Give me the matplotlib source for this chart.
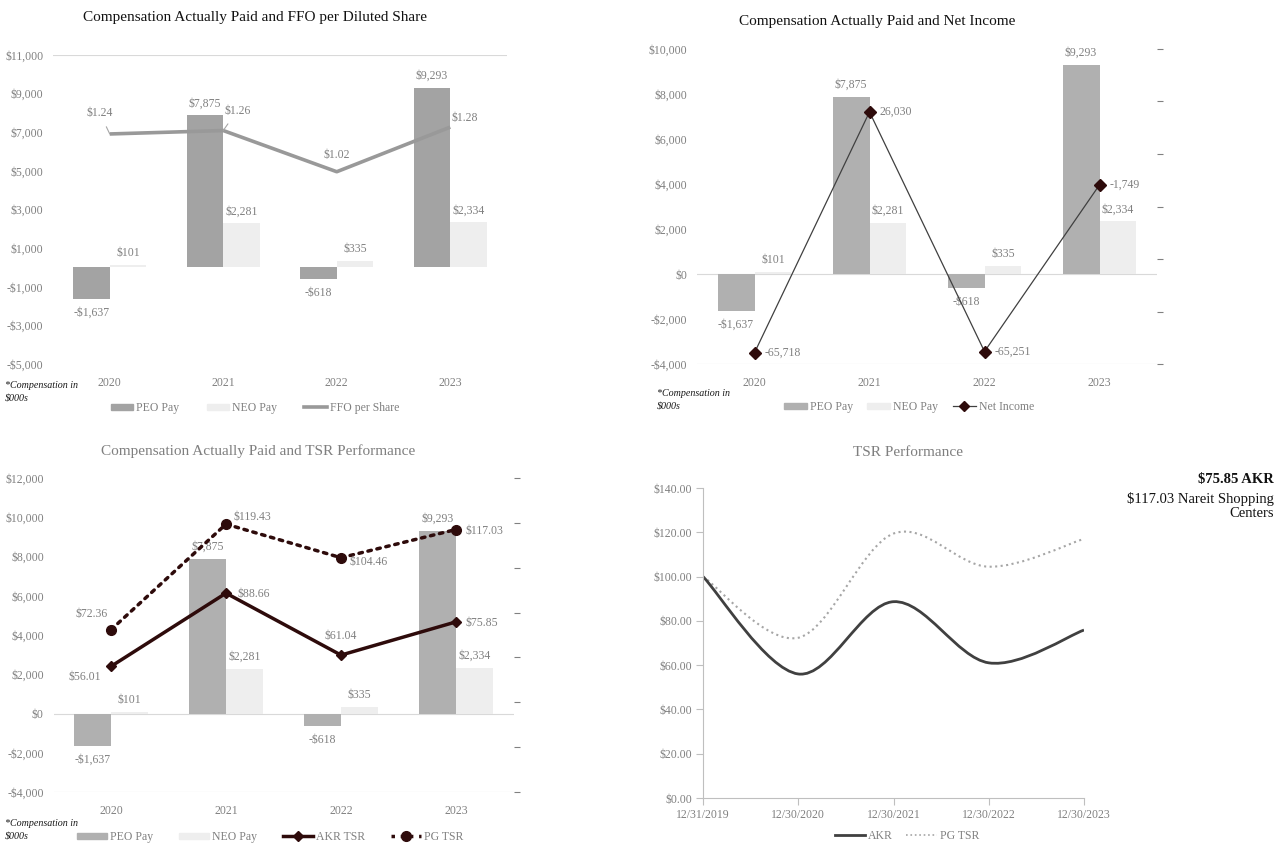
import matplotlib
matplotlib.use("Agg")
import matplotlib.pyplot as plt
from matplotlib.path import Path
from matplotlib.patches import PathPatch, Patch
from matplotlib.lines import Line2D
import numpy as np

plt.rcParams['font.family'] = ['Liberation Serif', 'DejaVu Serif']

# data
years = ['2020', '2021', '2022', '2023']
peo_pay = [-1637, 7875, -618, 9293]
neo_pay = [101, 2281, 335, 2334]
ffo_share = [1.24, 1.26, 1.02, 1.28]
net_income = [-65718, 26030, -65251, -1749]
akr_tsr = [56.01, 88.66, 61.04, 75.85]
pg_tsr = [72.36, 119.43, 104.46, 117.03]

tsr_dates = ['12/31/2019', '12/30/2020', '12/30/2021', '12/30/2022', '12/30/2023']
akr_curve = [100, 56.01, 88.66, 61.04, 75.85]
pg_curve = [100, 72.36, 119.43, 104.46, 117.03]

W, H = 1277, 848
GRAY = '#808080'
NEO_C = '#eeeeee'
DARK = '#2e0b0b'
FS = 8.5

fig = plt.figure(figsize=(W / 100, H / 100), dpi=100)


def box(l, t, r, b):
    return [l / W, 1 - b / H, (r - l) / W, (b - t) / H]


def ftext(x, y, s, **kw):
    fig.text(x / W, 1 - y / H, s, **kw)


def money(v, pos=None):
    return ('-$' if v < 0 else '$') + '{:,.0f}'.format(abs(v))


def bars(ax, peo_color):
    x = np.arange(len(years))
    w = 0.32
    ax.bar(x - w / 2, peo_pay, w, color=peo_color, zorder=2)
    ax.bar(x + w / 2, neo_pay, w, color=NEO_C, zorder=2)
    for xi, v in zip(x - w / 2, peo_pay):
        ax.annotate(money(v), (xi, v), xytext=(0, 6 if v > 0 else -8),
                    textcoords='offset pixels', ha='center',
                    va='bottom' if v > 0 else 'top', color=GRAY, fontsize=FS)
    for xi, v in zip(x + w / 2, neo_pay):
        ax.annotate(money(v), (xi, v), xytext=(0, 6), textcoords='offset pixels',
                    ha='center', va='bottom', color=GRAY, fontsize=FS)
    ax.set_xlim(-0.5, 3.5)
    ax.set_xticks(x)
    ax.set_xticklabels(years)
    ax.yaxis.set_major_formatter(plt.FuncFormatter(money))
    for s in ax.spines.values():
        s.set_visible(False)
    ax.tick_params(length=0, labelcolor=GRAY, labelsize=FS)
    ax.tick_params(axis='x', pad=9)
    ax.tick_params(axis='y', pad=7)


def legend(ax, handles, labels, cx, cy, hl=1.9, cs=2.2):
    ax.legend(handles, labels, loc='center', bbox_to_anchor=(cx / W, 1 - cy / H),
              bbox_transform=fig.transFigure, ncol=len(labels), frameon=False,
              fontsize=FS, labelcolor=GRAY, handlelength=hl, handleheight=0.45,
              handletextpad=0.25, columnspacing=cs)


def footnote(x, y):
    ftext(x, y, '*Compensation in\n$000s', fontsize=7.2, style='italic',
          color='#1a1a1a', va='center', linespacing=1.55)


def smooth_path(xs, ys):
    # cardinal-spline style bezier through each point
    pts = list(zip(xs, ys))
    n = len(pts)
    verts = [pts[0]]
    codes = [Path.MOVETO]
    for i in range(n - 1):
        p0 = pts[i - 1] if i > 0 else pts[i]
        p1, p2 = pts[i], pts[i + 1]
        p3 = pts[i + 2] if i + 2 < n else pts[i + 1]
        c1 = (p1[0] + (p2[0] - p0[0]) / 6, p1[1] + (p2[1] - p0[1]) / 6)
        c2 = (p2[0] - (p3[0] - p1[0]) / 6, p2[1] - (p3[1] - p1[1]) / 6)
        verts += [c1, c2, p2]
        codes += [Path.CURVE4] * 3
    return Path(verts, codes)


x = np.arange(len(years))

# --- FFO per diluted share ---
ax1 = fig.add_axes(box(53, 55, 507, 364))
bars(ax1, '#a3a3a3')
ax1.set_ylim(-5000, 11000)
ax1.set_yticks(range(-5000, 11001, 2000))
ax1.axhline(11000, color='#d9d9d9', lw=0.8, zorder=1)
ax1b = ax1.twinx()
ax1b.set_ylim(-0.1, 1.7)
ax1b.plot(x, ffo_share, color='#999999', lw=2.6, solid_capstyle='butt')
ax1b.axis('off')
ffo_offsets = [(-10, 21), (14, 20), (0, 17), (15, 9)]
for xi, v, off in zip(x, ffo_share, ffo_offsets):
    lead = dict(arrowstyle='-', color='#a6a6a6', lw=0.8, shrinkA=4, shrinkB=0) \
        if off[1] > 18 else None
    ax1b.annotate('${:.2f}'.format(v), (xi, v), xytext=off, textcoords='offset pixels',
                  ha='center', va='center', color=GRAY, fontsize=FS, arrowprops=lead)
ftext(255, 18, 'Compensation Actually Paid and FFO per Diluted Share',
      ha='center', va='center', fontsize=11, color='#111111')
footnote(5, 392)
legend(ax1, [Patch(color='#a3a3a3'), Patch(color=NEO_C),
             Line2D([], [], color='#999999', lw=2.6)],
       ['PEO Pay', 'NEO Pay', 'FFO per Share'], 255, 408, hl=1.9, cs=2.3)

# --- Net income ---
ax2 = fig.add_axes(box(697, 49, 1157, 364))
bars(ax2, '#b0b0b0')
ax2.set_ylim(-4000, 10000)
ax2.set_yticks(range(-4000, 10001, 2000))
ax2.axhline(0, color='#d9d9d9', lw=0.8, zorder=1)
ax2.axhline(-4000, color='#d9d9d9', lw=0.8, zorder=1)
ax2b = ax2.twinx()
ax2b.set_ylim(-70000, 50000)
ax2b.set_yticks(range(-70000, 50001, 20000))
ax2b.tick_params(axis='y', length=4, color=GRAY, labelright=False)
for s in ax2b.spines.values():
    s.set_visible(False)
ax2b.plot(x, net_income, color='#404040', lw=0.9, marker='D', ms=6,
          mfc=DARK, mec=DARK)
for xi, v in zip(x, net_income):
    ax2b.annotate('{:,}'.format(v), (xi, v), xytext=(10, 0), textcoords='offset pixels',
                  ha='left', va='center', color=GRAY, fontsize=FS)
ftext(877, 22, 'Compensation Actually Paid and Net Income',
      ha='center', va='center', fontsize=11, color='#111111')
footnote(657, 400)
legend(ax2, [Patch(color='#b0b0b0'), Patch(color=NEO_C),
             Line2D([], [], color='#404040', lw=0.9, marker='D', ms=5, mfc=DARK, mec=DARK)],
       ['PEO Pay', 'NEO Pay', 'Net Income'], 909, 407, hl=1.95, cs=1.2)

# --- TSR vs compensation ---
ax3 = fig.add_axes(box(53.5, 478, 513.5, 792))
bars(ax3, '#b0b0b0')
ax3.set_ylim(-4000, 12000)
ax3.set_yticks(range(-4000, 12001, 2000))
ax3.axhline(0, color='#d9d9d9', lw=0.8, zorder=1)
ax3.axhline(-4000, color='#d9d9d9', lw=0.8, zorder=1)
ax3b = ax3.twinx()
ax3b.set_ylim(0, 140)
ax3b.set_yticks(range(0, 141, 20))
ax3b.tick_params(axis='y', length=4, color=GRAY, labelright=False)
for s in ax3b.spines.values():
    s.set_visible(False)
ax3b.plot(x, pg_tsr, color=DARK, lw=2.5, ls=':', dash_capstyle='round',
          marker='o', ms=7)
ax3b.plot(x, akr_tsr, color=DARK, lw=2.5, marker='D', ms=5)
pg_offsets = [(-19, 16), (8, 7), (8, -4), (10, -1)]
akr_offsets = [(-26, -11), (12, -1), (0, 19), (10, -1)]
for xi, v, off in zip(x, pg_tsr, pg_offsets):
    ax3b.annotate('${:.2f}'.format(v), (xi, v), xytext=off, textcoords='offset pixels',
                  ha='center' if off[0] < 0 else 'left', va='center',
                  color=GRAY, fontsize=FS)
for xi, v, off in zip(x, akr_tsr, akr_offsets):
    ax3b.annotate('${:.2f}'.format(v), (xi, v), xytext=off, textcoords='offset pixels',
                  ha='center' if off[0] <= 0 else 'left', va='center',
                  color=GRAY, fontsize=FS)
ftext(258, 451, 'Compensation Actually Paid and TSR Performance',
      ha='center', va='center', fontsize=11, color='#7f7f7f')
footnote(5, 830)
legend(ax3, [Patch(color='#b0b0b0'), Patch(color=NEO_C),
             Line2D([], [], color=DARK, lw=2.5, marker='D', ms=5),
             Line2D([], [], color=DARK, lw=2.5, ls=':', marker='o', ms=7)],
       ['PEO Pay', 'NEO Pay', 'AKR TSR', 'PG TSR'], 270, 837, hl=2.55, cs=2.2)

# --- TSR performance ---
ax4 = fig.add_axes(box(703, 488, 1084, 798))
xd = np.arange(len(tsr_dates))
ax4.add_patch(PathPatch(smooth_path(xd, pg_curve), fill=False, ec='#a6a6a6',
                        lw=1.5, ls=':'))
ax4.add_patch(PathPatch(smooth_path(xd, akr_curve), fill=False, ec='#404040',
                        lw=2.0))
ax4.set_xlim(0, 4)
ax4.set_ylim(0, 140)
ax4.set_xticks(xd)
ax4.set_xticklabels(tsr_dates)
ax4.set_yticks(range(0, 141, 20))
ax4.yaxis.set_major_formatter(plt.FuncFormatter(lambda v, p: '${:.2f}'.format(v)))
for s in ['top', 'right']:
    ax4.spines[s].set_visible(False)
for s in ['left', 'bottom']:
    ax4.spines[s].set_color('#bfbfbf')
ax4.tick_params(length=5, color='#bfbfbf', labelcolor=GRAY, labelsize=FS)
ax4.tick_params(axis='y', pad=3)
ax4.tick_params(axis='x', pad=3)
ftext(908, 453, 'TSR Performance', ha='center', va='center', fontsize=11,
      color='#7f7f7f')
ftext(1274, 480, '${:.2f} AKR'.format(akr_curve[-1]), ha='right', va='center',
      fontsize=10.5, fontweight='bold', color='#111111')
ftext(1274, 506, '${:.2f} Nareit Shopping\nCenters'.format(pg_curve[-1]), ha='right',
      va='center', fontsize=10.5, color='#111111', linespacing=1.05)
legend(ax4, [Line2D([], [], color='#404040', lw=2.0),
             Line2D([], [], color='#a6a6a6', lw=1.2, ls=':')],
       ['AKR', 'PG TSR'], 907, 836, hl=2.6, cs=1.1)

fig.savefig('out.png', dpi=100)
